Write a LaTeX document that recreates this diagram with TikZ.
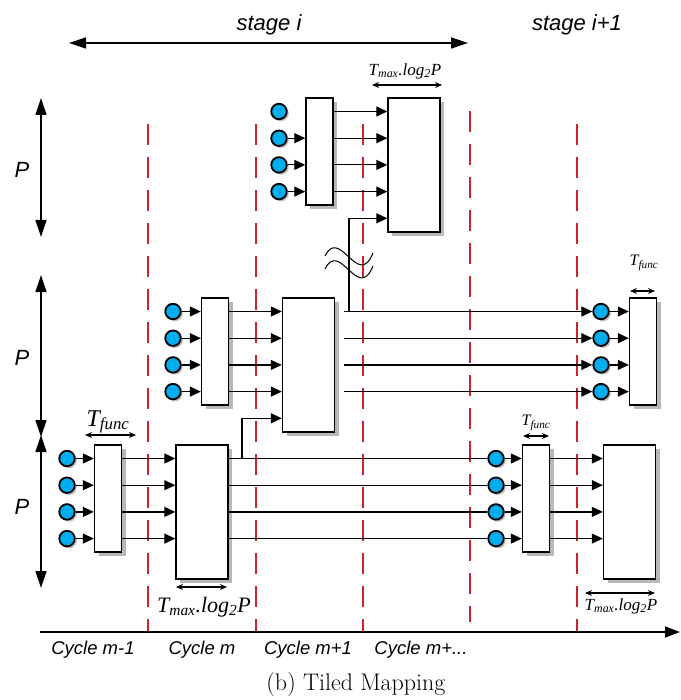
\documentclass[tikz,border=0pt]{standalone}
\usepackage{fontspec}
\newfontfamily\arialfont{Liberation Sans}
\newfontfamily\timesfont{Liberation Serif}
\usetikzlibrary{arrows.meta, positioning, shadows}
\definecolor{ballblue}{RGB}{0,174,239}
\definecolor{cyclered}{RGB}{205,35,45}

\begin{document}
\begin{tikzpicture}[
    x=1pt, y=-1pt,
    box/.style={rectangle, draw, line width=1.4pt, fill=white, inner sep=0pt, minimum width=27pt, minimum height=107pt, drop shadow={shadow xshift=4pt, shadow yshift=-4pt, fill=black!28, opacity=1}},
    bigbox/.style={box, minimum width=52pt, minimum height=134pt},
    ball/.style={circle, draw, line width=1.8pt, fill=ballblue, minimum size=15.5pt, inner sep=0pt, drop shadow={shadow xshift=2pt, shadow yshift=-2pt, fill=black!25, opacity=1}},
    arrow/.style={-{Triangle[length=11pt, width=10pt]}, line width=1.2pt},
    wire/.style={line width=1.2pt},
    span/.style={{Stealth[length=7pt, width=6pt]}-{Stealth[length=7pt, width=6pt]}, line width=1.1pt},
    bigspan/.style={{Triangle[length=17pt, width=11pt]}-{Triangle[length=17pt, width=11pt]}, line width=1.3pt},
    cycleline/.style={cyclered, line width=1.3pt, dash pattern=on 21pt off 12pt},
    sans/.style={font=\arialfont\itshape\fontsize{#1}{#1}\selectfont},
    serif/.style={font=\timesfont\itshape\fontsize{#1}{#1}\selectfont, inner sep=1pt}
]
\useasboundingbox (0,0) rectangle (680,700);

% Stages
\node[sans=22] (stagei) at (269,25) {stage i};
\node[sans=22] (stagej) at (577,25) {stage i+1};
\coordinate (stagel) at (69,43);
\coordinate (stager) at (468,43);
\draw[bigspan] (stagel) -- (stager);

% Cycle borders
\foreach \x in {148,256,363,577}
  \draw[cycleline] (\x,124) -- (\x,632);
\draw[cycleline] (470,111) -- (470,622);

% P markers
\coordinate (pu1) at (41,98);  \coordinate (pu2) at (41,237);
\coordinate (pm1) at (41,275); \coordinate (pm2) at (41,437);
\coordinate (pl1) at (41,435); \coordinate (pl2) at (41,588);
\draw[bigspan] (pu1) -- (pu2);
\draw[bigspan] (pm1) -- (pm2);
\draw[bigspan] (pl1) -- (pl2);
\node[sans=22] (pu) at (22,170) {P};
\node[sans=22] (pm) at (22,358) {P};
\node[sans=22] (pl) at (22,507) {P};

% Upper tile
\foreach \k in {1,...,4}
  \node[ball] (u\k) at (279,{84.8+26.7*\k}) {};
\coordinate (u5) at (279,218.3);
\node[box] (ufunc) at (319.5,151.5) {};
\node[bigbox] (ureduce) at (414,165) {};

% Middle tile
\foreach \k in {1,...,4}
  \node[ball] (m\k) at (173,{284.8+26.7*\k}) {};
\coordinate (m5) at (173,418.3);
\node[box] (mfunc) at (215,351.5) {};
\node[bigbox] (mreduce) at (308.5,365) {};
\foreach \k in {1,...,4}
  \node[ball] (mr\k) at (601,{284.8+26.7*\k}) {};
\node[box] (mnext) at (643,351.5) {};
\coordinate (mout) at (344,311.5);
\coordinate (mtap) at (349,311.5);

% Lower tile
\foreach \k in {1,...,4}
  \node[ball] (l\k) at (67,{431.8+26.7*\k}) {};
\node[box] (lfunc) at (108,498.5) {};
\node[bigbox] (lreduce) at (202,512) {};
\foreach \k in {1,...,4}
  \node[ball] (lr\k) at (496,{431.8+26.7*\k}) {};
\node[box] (lnext) at (536,498.5) {};
\node[bigbox] (lreduce2) at (629.5,512) {};
\coordinate (ltap) at (242,458.5);

% Arrows
\foreach \k in {2,3,4}
  \draw[arrow] (u\k) -- (ufunc.west |- u\k);
\foreach \k in {1,...,4} {
  \draw[arrow] (ufunc.east |- u\k) -- (ureduce.west |- u\k);
  \draw[arrow] (m\k) -- (mfunc.west |- m\k);
  \draw[arrow] (mfunc.east |- m\k) -- (mreduce.west |- m\k);
  \draw[arrow] (mout |- m\k) -- (mr\k.west);
  \draw[arrow] (mr\k) -- (mnext.west |- mr\k);
  \draw[arrow] (l\k) -- (lfunc.west |- l\k);
  \draw[arrow] (lfunc.east |- l\k) -- (lreduce.west |- l\k);
  \draw[wire] (lreduce.east |- l\k) -- (lr\k.west);
  \draw[arrow] (lr\k) -- (lnext.west |- lr\k);
  \draw[arrow] (lnext.east |- lr\k) -- (lreduce2.west |- lr\k);
}
\draw[arrow] (mtap) |- (ureduce.west |- u5);
\draw[arrow] (ltap) |- (mreduce.west |- m5);

% Break mark
\draw[line width=1pt] (325,256) .. controls (340,226) and (358,290) .. (373,253);
\draw[line width=1pt] (325,269) .. controls (340,239) and (358,303) .. (373,266);

% Timing labels
\node[serif=17] (tmaxu) at (405,71) {T\textsubscript{max}.log\textsubscript{2}P};
\coordinate (tmaxu1) at (372,85); \coordinate (tmaxu2) at (442,85);
\draw[span] (tmaxu1) -- (tmaxu2);

\node[serif=22] (tmaxl) at (204,607) {T\textsubscript{max}.log\textsubscript{2}P};
\coordinate (tmaxl1) at (176,587); \coordinate (tmaxl2) at (227,587);
\draw[span] (tmaxl1) -- (tmaxl2);

\node[serif=17] (tmaxr) at (621,606) {T\textsubscript{max}.log\textsubscript{2}P};
\coordinate (tmaxr1) at (585,593); \coordinate (tmaxr2) at (655,593);
\draw[span] (tmaxr1) -- (tmaxr2);

\node[serif=24] (tfuncl) at (108,422) {T\textsubscript{func}};
\coordinate (tfuncl1) at (85,435); \coordinate (tfuncl2) at (136,435);
\draw[span] (tfuncl1) -- (tfuncl2);

\node[serif=16] (tfuncm) at (536,423) {T\textsubscript{func}};
\coordinate (tfuncm1) at (523,436); \coordinate (tfuncm2) at (549,436);
\draw[span] (tfuncm1) -- (tfuncm2);

\node[serif=16] (tfuncr) at (644,263) {T\textsubscript{func}};
\coordinate (tfuncr1) at (630,291); \coordinate (tfuncr2) at (655,291);
\draw[span] (tfuncr1) -- (tfuncr2);

% Time axis
\coordinate (t0) at (40,632);
\coordinate (t1) at (680,632);
\draw[line width=1.5pt, -{Triangle[length=15pt, width=11pt]}] (t0) -- (t1);
\node[sans=18.5] (c1) at (93,650) {Cycle m-1};
\node[sans=18.5] (c2) at (202,650) {Cycle m};
\node[sans=18.5] (c3) at (308,650) {Cycle m+1};
\node[sans=18.5] (c4) at (421,650) {Cycle m+...};

\node[font=\fontsize{24}{28}\selectfont] (caption) at (356,685) {(b) Tiled Mapping};
\end{tikzpicture}
\end{document}
